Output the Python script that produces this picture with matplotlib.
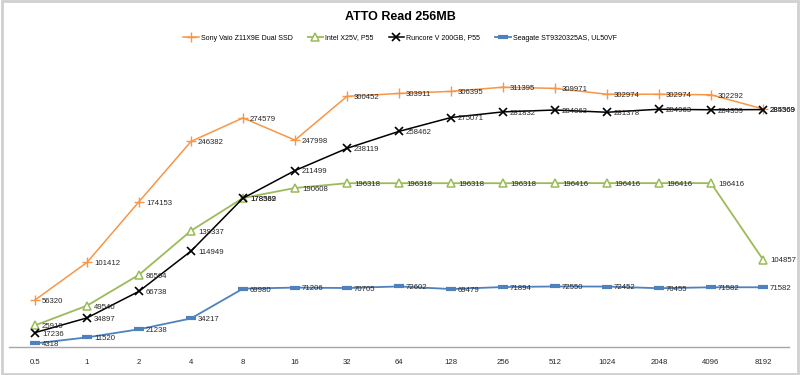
import matplotlib.pyplot as plt
from matplotlib.patches import Rectangle

# --------DATA--------
block_sizes = ['0.5', '1', '2', '4', '8', '16', '32', '64', '128', '256',
               '512', '1024', '2048', '4096', '8192']
sony = [56320, 101412, 174153, 246382, 274579, 247998, 300452, 303911,
        306395, 311395, 309971, 302974, 302974, 302292, 285369]
intel = [25919, 49540, 86564, 139337, 178569, 190608, 196318, 196318,
         196318, 196318, 196416, 196416, 196416, 196416, 104857]
runcore = [17236, 34897, 66738, 114949, 178382, 211499, 238119, 258462,
           275071, 281832, 284063, 281378, 284963, 284359, 284569]
seagate = [4318, 11520, 21238, 34217, 69980, 71206, 70705, 72602,
           69479, 71894, 72550, 72452, 70455, 71582, 71582]

names = ['Sony Vaio Z11X9E Dual SSD', 'Intel X25V, P55',
         'Runcore V 200GB, P55', 'Seagate ST9320325AS, UL50VF']

plt.rcParams['font.family'] = ['Liberation Sans', 'DejaVu Sans']

fig = plt.figure(figsize=(8, 3.75), dpi=100)
ax = fig.add_axes([9/800, 1 - 347/375, 780/800, 292/375])

x = list(range(len(block_sizes)))

# стили серий: цвет, маркер, размер, толщина маркера, толщина линии, заливка
styles = [
    ('#F79646', '+', 7, 1.0, 1.1, 'none'),
    ('#9BBB59', '^', 5.5, 1.1, 1.3, 'white'),
    ('#000000', 'x', 5.5, 1.2, 1.1, 'none'),
    ('#4F81BD', '_', 6.5, 3.0, 1.3, 'none'),
]
series = [sony, intel, runcore, seagate]

handles = []
for vals, (c, m, ms, mew, lw, mfc), name in zip(series, styles, names):
    h, = ax.plot(x, vals, color=c, marker=m, markersize=ms, markeredgewidth=mew,
                 markerfacecolor=mfc, linewidth=lw, label=name, zorder=3)
    handles.append(h)
    for xi, v in zip(x, vals):
        ax.annotate(str(v), (xi, v), xytext=(5, -1), textcoords='offset points',
                    fontsize=5.6, color='#262626', va='center', ha='left', zorder=4)

ax.set_xlim(-0.5, len(block_sizes) - 0.5)
ax.set_ylim(0, 350000)
ax.set_xticks(x)
ax.set_xticklabels(block_sizes, fontsize=5.6, color='#262626')
ax.tick_params(axis='x', length=0, pad=9)
ax.set_yticks([])
for s in ['left', 'right', 'top']:
    ax.spines[s].set_visible(False)
ax.spines['bottom'].set_color('#A6A6A6')
ax.spines['bottom'].set_linewidth(1.0)
ax.patch.set_alpha(0)

fig.text(0.5, 1 - 17/375, 'ATTO Read 256MB', ha='center', va='center',
         fontsize=9, fontweight='bold')

fig.legend(handles=handles, loc='center', bbox_to_anchor=(0.5, 1 - 38/375),
           ncol=4, frameon=False, fontsize=5, handlelength=2.2,
           columnspacing=2.2, handletextpad=0.3)

# серая рамка вокруг диаграммы
fig.patches.append(Rectangle((0.002, 0.003), 0.996, 0.994, transform=fig.transFigure,
                             fill=False, edgecolor='#D0D0D0', linewidth=2))

fig.savefig('out.png', dpi=100)
